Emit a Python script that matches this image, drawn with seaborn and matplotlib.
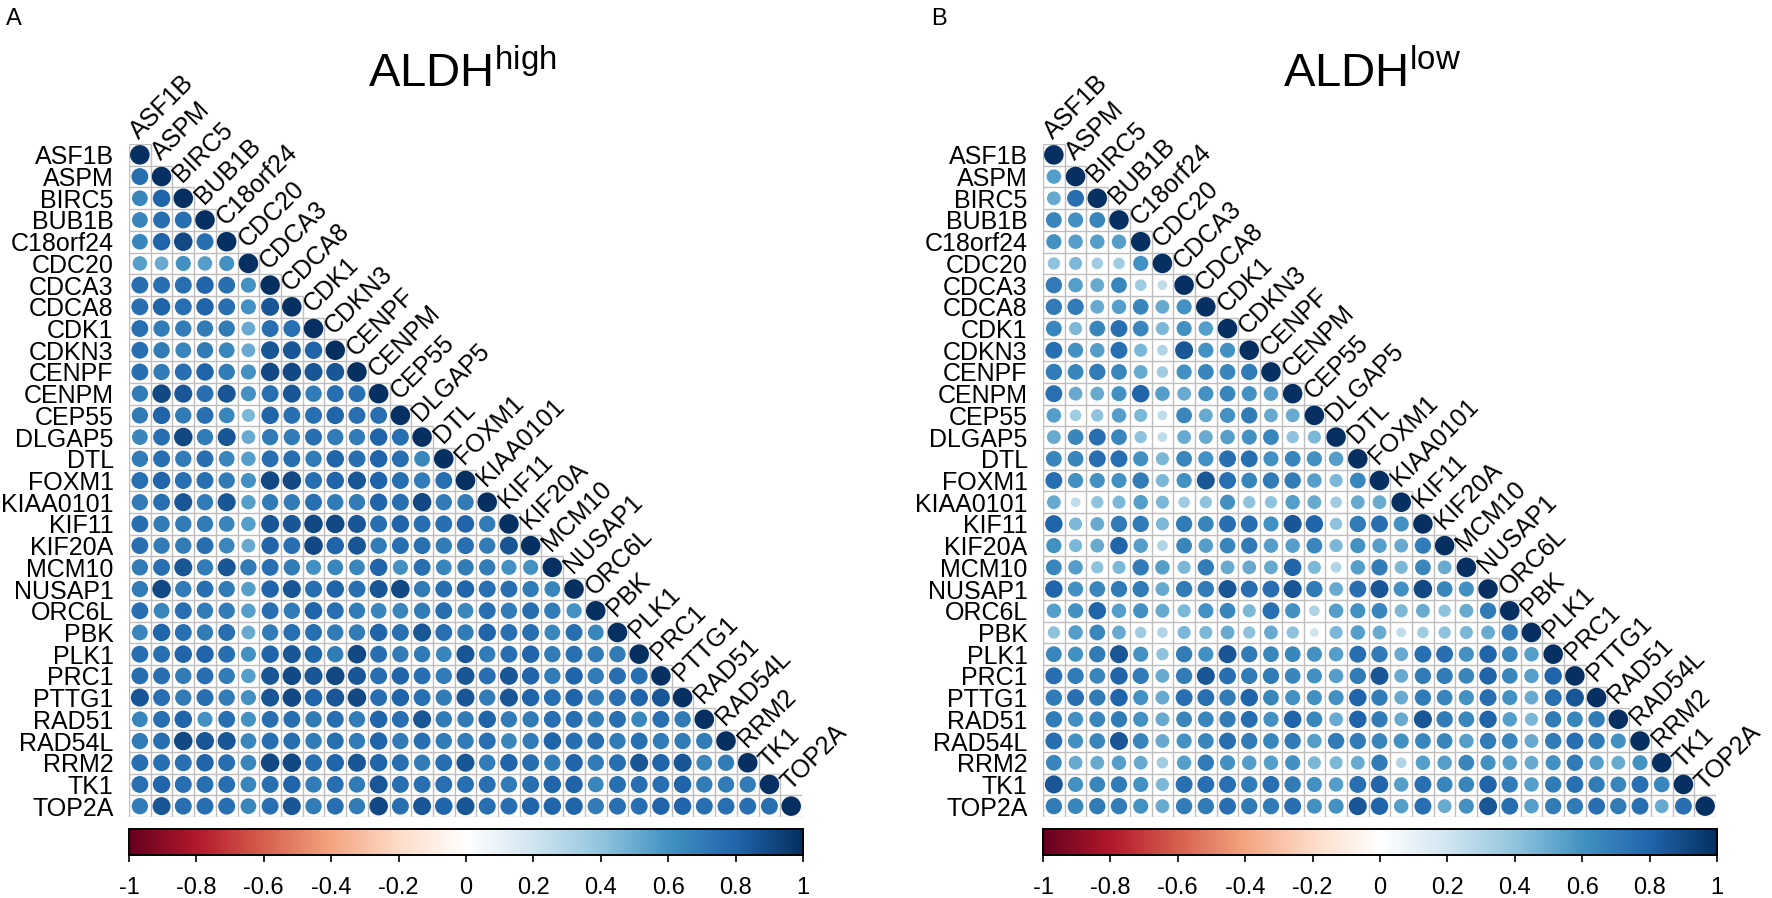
import numpy as np
import pandas as pd
import matplotlib
matplotlib.use("Agg")
import matplotlib.pyplot as plt
import seaborn as sns
from matplotlib.colors import LinearSegmentedColormap, Normalize
from matplotlib.cm import ScalarMappable

genes = ["ASF1B", "ASPM", "BIRC5", "BUB1B", "C18orf24", "CDC20", "CDCA3", "CDCA8",
         "CDK1", "CDKN3", "CENPF", "CENPM", "CEP55", "DLGAP5", "DTL", "FOXM1",
         "KIAA0101", "KIF11", "KIF20A", "MCM10", "NUSAP1", "ORC6L", "PBK", "PLK1",
         "PRC1", "PTTG1", "RAD51", "RAD54L", "RRM2", "TK1", "TOP2A"]

# lower-triangle correlations (row i holds columns 0..i-1), ALDH-high
high_rows = [
    [],
    [.75],
    [.65, .8],
    [.65, .75, .75],
    [.65, .8, .9, .75],
    [.55, .5, .6, .55, .6],
    [.75, .75, .75, .8, .75, .6],
    [.75, .8, .75, .8, .75, .6, .85],
    [.75, .7, .7, .7, .7, .5, .75, .75],
    [.75, .7, .65, .7, .65, .5, .85, .85, .8],
    [.75, .7, .75, .8, .7, .6, .9, .9, .85, .85],
    [.7, .9, .85, .75, .85, .6, .75, .85, .7, .75, .75],
    [.7, .8, .7, .75, .65, .45, .8, .75, .75, .8, .75, .75],
    [.65, .75, .9, .7, .85, .5, .7, .7, .75, .7, .7, .8, .75],
    [.7, .75, .7, .75, .65, .55, .75, .75, .7, .8, .75, .8, .75, .65],
    [.75, .8, .75, .75, .7, .6, .9, .9, .75, .8, .85, .8, .75, .7, .75],
    [.7, .75, .85, .7, .85, .55, .7, .7, .75, .7, .7, .8, .75, .9, .7, .7],
    [.75, .7, .7, .7, .65, .55, .85, .85, .9, .9, .85, .75, .8, .75, .75, .8, .7],
    [.75, .7, .7, .75, .65, .5, .8, .75, .9, .8, .85, .7, .75, .75, .7, .75, .7, .85],
    [.7, .75, .85, .7, .85, .7, .75, .7, .6, .65, .65, .8, .6, .75, .65, .7, .7, .6, .6],
    [.7, .9, .7, .75, .7, .55, .8, .85, .75, .8, .75, .85, .9, .7, .75, .8, .75, .75, .7, .65],
    [.75, .65, .75, .7, .7, .55, .75, .7, .8, .75, .7, .65, .65, .7, .75, .65, .75, .7, .75, .7, .6],
    [.65, .8, .75, .7, .75, .5, .7, .75, .75, .7, .7, .8, .75, .85, .75, .7, .8, .75, .75, .65, .75, .65],
    [.75, .75, .8, .8, .75, .6, .8, .85, .8, .7, .9, .75, .7, .7, .65, .85, .7, .75, .8, .7, .75, .7, .7],
    [.75, .75, .7, .75, .7, .55, .85, .9, .85, .9, .85, .75, .8, .75, .7, .85, .75, .85, .8, .7, .8, .7, .75, .75],
    [.85, .75, .7, .75, .7, .6, .85, .9, .8, .85, .9, .75, .8, .75, .7, .85, .7, .85, .8, .75, .8, .7, .75, .8, .85],
    [.65, .75, .8, .6, .75, .6, .75, .75, .7, .75, .7, .8, .75, .85, .7, .7, .8, .7, .7, .75, .75, .7, .75, .65, .75, .7],
    [.7, .75, .9, .85, .85, .65, .75, .75, .7, .75, .7, .8, .7, .75, .7, .7, .75, .65, .7, .8, .75, .75, .7, .75, .7, .7, .7],
    [.75, .75, .75, .8, .75, .65, .9, .9, .75, .8, .85, .8, .75, .7, .75, .85, .7, .8, .75, .7, .8, .7, .75, .85, .8, .85, .65, .7],
    [.75, .8, .75, .75, .75, .65, .75, .8, .7, .75, .7, .85, .75, .75, .75, .75, .75, .7, .75, .8, .8, .65, .75, .75, .75, .8, .7, .7, .7],
    [.7, .85, .75, .75, .75, .65, .75, .85, .7, .75, .7, .9, .75, .85, .8, .85, .75, .75, .8, .8, .8, .7, .75, .75, .8, .8, .75, .75, .75, .75],
]

# ALDH-low
low_rows = [
    [],
    [.55],
    [.5, .75],
    [.65, .6, .65],
    [.6, .55, .55, .55],
    [.4, .45, .35, .35, .6],
    [.7, .55, .5, .65, .35, .25],
    [.7, .7, .5, .55, .65, .5, .6],
    [.65, .45, .65, .75, .65, .45, .6, .55],
    [.75, .6, .55, .75, .45, .3, .85, .6, .6],
    [.7, .65, .7, .65, .5, .35, .6, .65, .65, .7],
    [.75, .5, .5, .6, .8, .55, .5, .6, .65, .6, .55],
    [.55, .35, .4, .55, .45, .25, .65, .5, .6, .7, .5, .5],
    [.5, .65, .75, .65, .4, .25, .5, .5, .55, .6, .65, .4, .45],
    [.65, .65, .75, .75, .6, .45, .65, .6, .75, .75, .6, .65, .6, .55],
    [.75, .6, .6, .6, .7, .45, .6, .85, .75, .65, .7, .7, .55, .45, .65],
    [.5, .25, .4, .45, .55, .45, .35, .4, .6, .4, .4, .55, .5, .35, .5, .5],
    [.8, .45, .5, .7, .7, .45, .7, .65, .75, .75, .6, .85, .8, .4, .7, .75, .6],
    [.6, .45, .5, .8, .55, .3, .65, .55, .65, .7, .55, .55, .65, .45, .6, .55, .5, .7],
    [.65, .55, .4, .45, .7, .55, .45, .7, .5, .5, .5, .8, .45, .3, .55, .7, .45, .65, .5],
    [.8, .6, .65, .7, .7, .5, .7, .7, .85, .75, .75, .85, .7, .5, .75, .85, .6, .9, .65, .6],
    [.55, .6, .8, .55, .6, .5, .45, .6, .65, .45, .75, .6, .3, .55, .6, .65, .45, .5, .4, .5, .7],
    [.4, .55, .65, .5, .35, .3, .45, .45, .5, .4, .5, .4, .2, .45, .55, .5, .25, .35, .4, .45, .5, .7],
    [.65, .6, .7, .85, .6, .4, .7, .6, .85, .7, .65, .65, .6, .55, .75, .7, .5, .75, .75, .6, .8, .65, .55],
    [.75, .7, .65, .8, .7, .5, .7, .85, .75, .7, .7, .65, .6, .55, .7, .85, .5, .7, .7, .65, .8, .65, .55, .8],
    [.7, .75, .7, .8, .6, .5, .75, .75, .7, .8, .65, .6, .6, .6, .8, .7, .5, .7, .65, .6, .75, .6, .5, .75, .85],
    [.7, .6, .65, .7, .6, .5, .65, .65, .7, .75, .6, .8, .65, .5, .8, .7, .5, .85, .7, .65, .8, .55, .45, .7, .65, .7],
    [.75, .6, .65, .85, .65, .5, .6, .65, .75, .7, .65, .7, .55, .7, .7, .65, .6, .65, .65, .55, .7, .65, .5, .7, .75, .7, .6],
    [.65, .5, .5, .55, .5, .35, .55, .7, .6, .55, .55, .6, .45, .45, .5, .7, .3, .55, .55, .65, .6, .55, .5, .6, .7, .55, .5, .6],
    [.85, .6, .65, .7, .6, .45, .75, .75, .75, .7, .75, .7, .6, .55, .75, .8, .55, .75, .65, .65, .8, .7, .55, .7, .75, .7, .65, .75, .65],
    [.7, .65, .7, .7, .6, .5, .7, .7, .75, .7, .7, .75, .6, .6, .85, .8, .55, .75, .5, .6, .85, .75, .55, .7, .7, .75, .7, .75, .5, .75],
]

tick_values = [-1, -0.8, -0.6, -0.4, -0.2, 0, 0.2, 0.4, 0.6, 0.8, 1]
tick_labels = ["-1", "-0.8", "-0.6", "-0.4", "-0.2", "0", "0.2", "0.4", "0.6", "0.8", "1"]

sns.set_style("white")
plt.rcParams["font.family"] = ["Liberation Sans", "DejaVu Sans"]
plt.rcParams["mathtext.fontset"] = "custom"
plt.rcParams["mathtext.rm"] = "Liberation Sans"
plt.rcParams["mathtext.it"] = "Liberation Sans:italic"
plt.rcParams["axes.unicode_minus"] = False
for key in ["text.color", "xtick.color", "ytick.color", "axes.labelcolor"]:
    plt.rcParams[key] = "black"

rdbu = LinearSegmentedColormap.from_list(
    "corrRdBu",
    ["#67001F", "#B2182B", "#D6604D", "#F4A582", "#FDDBC7", "#FFFFFF",
     "#D1E5F0", "#92C5DE", "#4393C3", "#2166AC", "#053061"], N=200)

W, H = 1772, 898
fig = plt.figure(figsize=(W / 100, H / 100), dpi=100)
n = len(genes)
GRID = 673
GRID_COLOR = "#BEBEBE"
LABEL_FS = 18


def long_df(rows):
    recs = []
    for i, row in enumerate(rows):
        assert len(row) == i, (i, len(row))
        for j, v in enumerate(row):
            recs.append((i, j, v))
        recs.append((i, i, 1.0))
    return pd.DataFrame(recs, columns=["row", "col", "r"])


def panel(x0, rows, title, title_x, letter, letter_x):
    ax = fig.add_axes([x0 / W, (H - 817) / H, GRID / W, GRID / H])
    ax.set_xlim(0, n)
    ax.set_ylim(n, 0)

    # grid lines only around lower-triangle cells
    ys = np.arange(n + 1)
    ax.hlines(ys, 0, np.minimum(ys + 1, n), color=GRID_COLOR, lw=1.0, zorder=1)
    xs = np.arange(n + 1)
    ax.vlines(xs, np.maximum(xs - 1, 0), n, color=GRID_COLOR, lw=1.0, zorder=1)

    df = long_df(rows)
    cell_pt = GRID / n * 72 / 100
    sizes = (0.9 * np.sqrt(np.abs(df["r"].values)) * cell_pt) ** 2
    sns.scatterplot(x=df["col"].values + 0.5, y=df["row"].values + 0.5,
                    hue=df["r"].values, palette=rdbu, hue_norm=(-1, 1),
                    s=sizes, linewidth=0, edgecolor="none", legend=False,
                    ax=ax, zorder=2)
    ax.set_xlim(0, n)
    ax.set_ylim(n, 0)
    ax.set_xlabel("")
    ax.set_ylabel("")
    for sp in ax.spines.values():
        sp.set_visible(False)
    ax.set_xticks([])
    ax.set_yticks(np.arange(n) + 0.5)
    ax.set_yticklabels(genes, fontsize=LABEL_FS, rotation=0)
    ax.tick_params(axis="y", length=0, pad=11)
    for j, g in enumerate(genes):
        ax.text(j + 0.45, j - 0.2, g, rotation=45, rotation_mode="anchor",
                ha="left", va="baseline", fontsize=LABEL_FS, clip_on=False)

    cax = fig.add_axes([x0 / W, (H - 855) / H, (GRID + 1) / W, 26 / H])
    cb = fig.colorbar(ScalarMappable(norm=Normalize(-1, 1), cmap=rdbu),
                      cax=cax, orientation="horizontal")
    cb.set_ticks(tick_values)
    cb.set_ticklabels(tick_labels)
    cb.outline.set_linewidth(1.4)
    cb.outline.set_edgecolor("black")
    cax.tick_params(axis="x", length=5, width=1.2, pad=11, labelsize=17,
                    direction="out", color="black")

    fig.text(title_x / W, 1 - 87 / H, title, ha="left", va="baseline", fontsize=34)
    fig.text(letter_x / W, 1 - 25 / H, letter, ha="left", va="baseline", fontsize=17)


panel(129, high_rows, r"ALDH$^{\rm high}$", 368, "A", 6)
panel(1043, low_rows, r"ALDH$^{\rm low}$", 1283, "B", 931)

fig.savefig("out.png", dpi=100)
